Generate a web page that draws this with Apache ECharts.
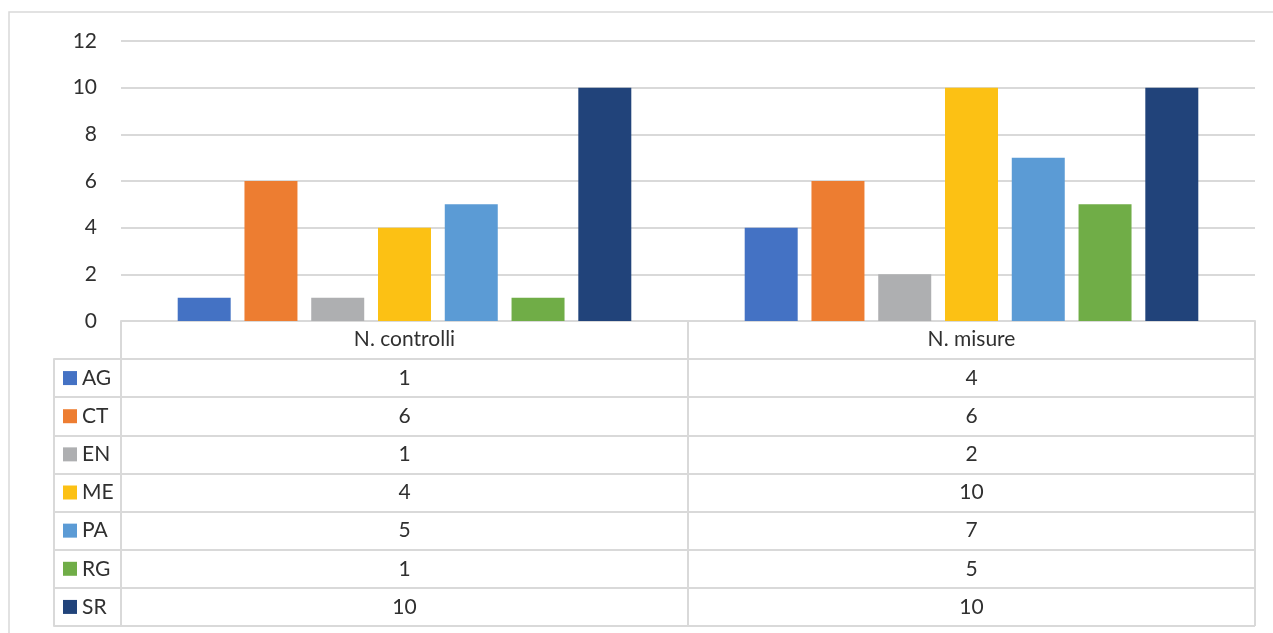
<!DOCTYPE html>
<html>
<head>
<meta charset="utf-8">
<script src="https://cdn.jsdelivr.net/npm/echarts@6/dist/echarts.min.js"></script>
<style>
html,body{margin:0;padding:0;background:#fff;}
#chart{width:1273px;height:633px;}
</style>
</head>
<body>
<div id="chart"></div>
<script>
const categories = ['N. controlli', 'N. misure'];
const seriesNames = ['AG', 'CT', 'EN', 'ME', 'PA', 'RG', 'SR'];
const AG = [1, 4];
const CT = [6, 6];
const EN = [1, 2];
const ME = [4, 10];
const PA = [5, 7];
const RG = [1, 5];
const SR = [10, 10];
const yTicks = [0, 2, 4, 6, 8, 10, 12];

const seriesValues = [AG, CT, EN, ME, PA, RG, SR];
const colors = ['#4472C4', '#ED7D31', '#AEAFB1', '#FCC114', '#5B9BD5', '#70AD47', '#21437A'];
const FONT = 'Lato';
const FS = 21;
const TXT = '#303030';
const LINE = '#d9d9d9';

const chart = echarts.init(document.getElementById('chart'), null, {renderer: 'canvas'});

const rich = {sp: {width: 5}, t: {fontFamily: FONT, fontSize: FS, color: TXT}};
seriesNames.forEach((n, i) => {
  rich['s' + i] = {width: 14, height: 14, backgroundColor: colors[i]};
});

const tableData = [];
seriesValues.forEach((vals, r) => {
  vals.forEach((v, c) => tableData.push([c, r, v]));
});

const barSeries = seriesNames.map((n, i) => ({
  name: n,
  type: 'bar',
  xAxisIndex: 0,
  yAxisIndex: 0,
  data: seriesValues[i],
  itemStyle: {color: colors[i]},
  barCategoryGap: '20%',
  barGap: '26%'
}));

chart.setOption({
  animation: false,
  backgroundColor: '#fff',
  textStyle: {fontFamily: FONT},
  graphic: [{
    type: 'rect',
    shape: {x: 9, y: 12, width: 1400, height: 800},
    style: {fill: 'none', stroke: LINE, lineWidth: 1.5},
    silent: true,
    z: -10
  }],
  grid: [
    {left: 121, right: 18, top: 41, bottom: 312},
    {left: 121, right: 18, top: 359, bottom: 7}
  ],
  xAxis: [{
    type: 'category',
    gridIndex: 0,
    data: categories,
    axisLine: {show: true, lineStyle: {color: LINE, width: 2}},
    axisTick: {show: true, length: 38, lineStyle: {color: LINE, width: 2}},
    axisLabel: {margin: 8, fontFamily: FONT, fontSize: FS, color: TXT},
    splitLine: {show: false}
  }, {
    type: 'category',
    gridIndex: 1,
    data: categories,
    position: 'top',
    axisLine: {show: true, lineStyle: {color: LINE, width: 2}},
    axisTick: {show: false},
    axisLabel: {show: false},
    splitLine: {show: true, lineStyle: {color: LINE, width: 2}}
  }],
  yAxis: [{
    type: 'value',
    gridIndex: 0,
    min: yTicks[0],
    max: yTicks[yTicks.length - 1],
    interval: yTicks[1] - yTicks[0],
    axisLine: {show: false},
    axisTick: {show: false},
    axisLabel: {margin: 24, fontFamily: FONT, fontSize: FS, color: TXT},
    splitLine: {show: true, lineStyle: {color: LINE, width: 2}}
  }, {
    type: 'category',
    gridIndex: 1,
    data: seriesNames,
    inverse: true,
    axisLine: {show: true, lineStyle: {color: LINE, width: 2}},
    axisTick: {show: true, length: 67, lineStyle: {color: LINE, width: 2}},
    axisLabel: {
      margin: 58,
      align: 'left',
      formatter: (val, idx) => '{s' + idx + '|}{sp|}{t|' + val + '}',
      rich: rich
    },
    splitLine: {show: true, lineStyle: {color: LINE, width: 2}}
  }, {
    type: 'category',
    gridIndex: 1,
    data: seriesNames,
    inverse: true,
    position: 'left',
    offset: 67,
    axisLine: {show: true, lineStyle: {color: LINE, width: 2}},
    axisTick: {show: false},
    axisLabel: {show: false},
    splitLine: {show: false}
  }],
  series: barSeries.concat([{
    type: 'custom',
    xAxisIndex: 1,
    yAxisIndex: 1,
    data: tableData,
    silent: true,
    renderItem: function (params, api) {
      const p = api.coord([api.value(0), api.value(1)]);
      return {
        type: 'text',
        x: p[0],
        y: p[1],
        style: {
          text: String(api.value(2)),
          fontFamily: FONT,
          fontSize: FS,
          fill: TXT,
          align: 'center',
          verticalAlign: 'middle'
        }
      };
    }
  }])
});
</script>
</body>
</html>
